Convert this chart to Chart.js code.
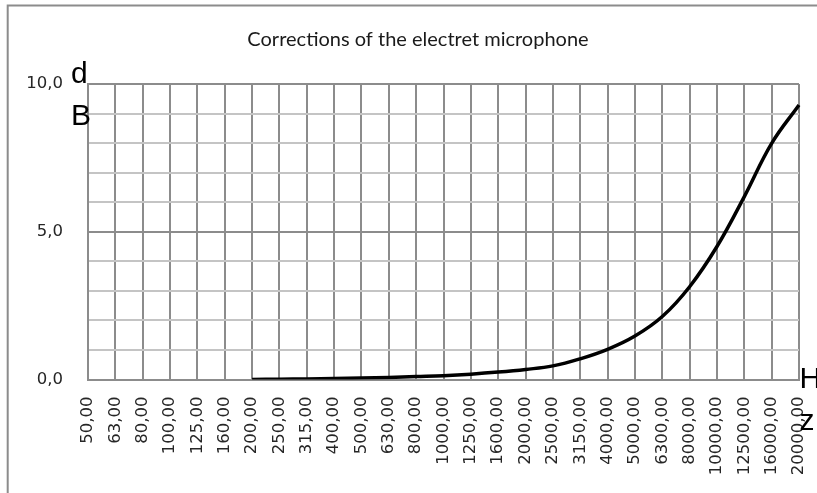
<!DOCTYPE html>
<html>
<head>
<meta charset="utf-8">
<title>Corrections of the electret microphone</title>
<script src="https://cdn.jsdelivr.net/npm/chart.js@4/dist/chart.umd.min.js"></script>
<style>
  html, body { margin: 0; padding: 0; background: #fff; overflow: hidden; }
  #wrap { width: 817px; height: 493px; }
</style>
</head>
<body>
<div id="wrap"><canvas id="micChart" width="817" height="493"></canvas></div>
<script>
// Third-octave frequencies (Hz), as printed under the x axis
const frequencies = [
    '50,00', '63,00', '80,00', '100,00', '125,00', '160,00', '200,00', '250,00', '315,00',
    '400,00', '500,00', '630,00', '800,00', '1000,00', '1250,00', '1600,00', '2000,00',
    '2500,00', '3150,00', '4000,00', '5000,00', '6300,00', '8000,00', '10000,00',
    '12500,00', '16000,00', '20000,00'
];

// Correction in dB (no values below 200 Hz)
const corrections = [
    null, null, null, null, null, null,
    0.00, 0.01, 0.02, 0.03, 0.05, 0.07, 0.10, 0.13, 0.18, 0.25, 0.34,
    0.46, 0.70, 1.02, 1.47, 2.13, 3.14, 4.50, 6.19, 7.99, 9.29
];

// y axis: only these ticks get a label
const yTickValues = [0, 5, 10];
const yTickLabels = ['0,0', '5,0', '10,0'];

const chartTitle = 'Corrections of the electret microphone';
const yUnit = ['d', 'B'];
const xUnit = ['H', 'z'];

// Outer frame, title and the stacked unit letters
const extras = {
    id: 'extras',
    beforeDraw(chart) {
        const ctx = chart.ctx;
        ctx.save();
        ctx.strokeStyle = '#8c8c8c';
        ctx.lineWidth = 2;
        ctx.beginPath();
        ctx.moveTo(7.7, chart.height);
        ctx.lineTo(7.7, 5.5);
        ctx.lineTo(chart.width, 5.5);
        ctx.stroke();
        ctx.restore();
    },
    afterDraw(chart) {
        const ctx = chart.ctx;
        const area = chart.chartArea;
        ctx.save();
        ctx.fillStyle = '#1a1a1a';
        ctx.font = '20px Lato';
        ctx.textAlign = 'center';
        ctx.textBaseline = 'alphabetic';
        ctx.fillText(chartTitle, 418, 45.5);

        ctx.fillStyle = '#000';
        ctx.font = '30px "Liberation Sans"';
        ctx.textAlign = 'left';
        yUnit.forEach((ch, i) => ctx.fillText(ch, area.left - 17, area.top - 1.5 + i * 42));
        xUnit.forEach((ch, i) => ctx.fillText(ch, area.right + 0.5, area.bottom + 8.5 + i * 42));
        ctx.restore();
    }
};

Chart.defaults.font.family = '"DejaVu Sans"';
Chart.defaults.font.size = 16.5;
Chart.defaults.color = '#262626';

new Chart(document.getElementById('micChart').getContext('2d'), {
    type: 'line',
    data: {
        labels: frequencies,
        datasets: [{
            label: 'Correction',
            data: corrections,
            borderColor: '#000',
            borderWidth: 3.5,
            pointRadius: 0,
            tension: 0.4,
            spanGaps: false
        }]
    },
    options: {
        responsive: false,
        animation: false,
        devicePixelRatio: 1,
        layout: { padding: { top: 84, left: 0, right: 18, bottom: 0 } },
        plugins: {
            legend: { display: false },
            title: { display: false },
            tooltip: { enabled: false }
        },
        scales: {
            x: {
                offset: false,
                grid: { color: '#8c8c8c', lineWidth: 2, drawTicks: false },
                border: { color: '#8c8c8c', width: 2 },
                ticks: {
                    autoSkip: false,
                    minRotation: 90,
                    maxRotation: 90,
                    padding: 17
                },
                afterFit(scale) {
                    scale.height = 113.5;
                    scale.paddingLeft = 0;
                    scale.paddingRight = 0;
                }
            },
            y: {
                min: 0,
                max: 10,
                grid: {
                    drawTicks: false,
                    lineWidth: 2,
                    color: ctx => yTickValues.includes(ctx.tick.value) ? '#8c8c8c' : '#c4c4c4'
                },
                border: { color: '#8c8c8c', width: 2 },
                ticks: {
                    stepSize: 1,
                    padding: 25,
                    callback: v => {
                        const i = yTickValues.indexOf(v);
                        return i >= 0 ? yTickLabels[i] : '';
                    }
                },
                afterFit(scale) { scale.width = 88; }
            }
        }
    },
    plugins: [extras]
});
</script>
</body>
</html>
